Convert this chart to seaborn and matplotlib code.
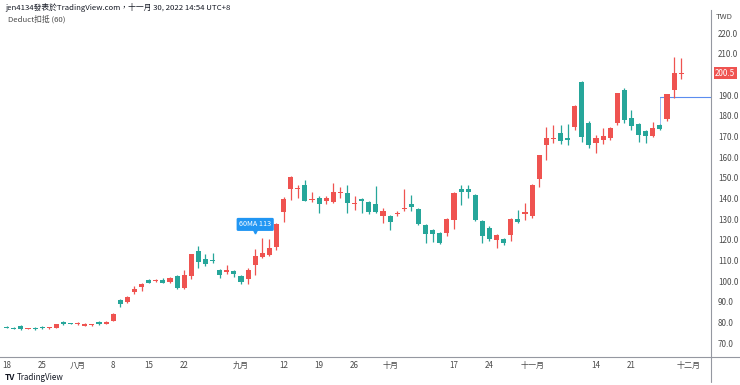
import matplotlib
matplotlib.use("Agg")
import matplotlib.pyplot as plt
from matplotlib.lines import Line2D
import seaborn as sns
import numpy as np
import pandas as pd

# ---- data ----
opens = [77.7, 77.4, 78.3, 76.8, 77.3, 77.9, 77.2, 77.4, 80.3, 79.6,
         79.3, 78.4, 78.6, 80.1, 79.4, 80.7, 91.0, 90.0, 94.9, 97.3,
         100.5, 99.9, 100.5, 99.4, 102.4, 96.4, 102.4, 114.4, 110.5, 109.9,
         105.2, 104.2, 104.9, 102.3, 101.0, 107.6, 111.8, 112.6, 116.3, 133.3,
         144.5, 144.6, 146.5, 139.0, 140.4, 138.9, 138.4, 142.6, 142.4, 137.4,
         139.7, 138.1, 137.4, 131.6, 131.5, 132.6, 135.0, 137.3, 134.7, 127.1,
         124.5, 123.4, 123.4, 129.5, 144.4, 144.4, 141.6, 129.0, 125.8, 119.9,
         120.3, 122.3, 129.9, 132.4, 131.5, 149.5, 165.8, 168.9, 171.5, 169.3,
         174.4, 196.4, 176.6, 166.9, 168.2, 169.0, 176.3, 192.4, 178.7, 175.8,
         172.7, 170.3, 175.3, 178.2, 192.4, 200.0]
highs = [78.1, 77.6, 78.6, 77.5, 77.6, 78.3, 77.7, 79.4, 80.6, 79.9,
         80.0, 79.5, 79.4, 80.5, 80.6, 84.3, 91.3, 92.8, 97.4, 99.0,
         101.0, 101.0, 101.5, 101.8, 102.8, 105.5, 113.3, 117.0, 113.3, 113.5,
         105.8, 107.6, 105.5, 102.8, 106.4, 115.7, 120.9, 120.3, 128.0, 140.5,
         150.8, 146.7, 148.9, 143.2, 140.9, 141.3, 147.4, 145.6, 146.4, 141.1,
         140.2, 138.6, 146.2, 135.2, 132.0, 134.0, 144.4, 141.5, 135.3, 127.5,
         125.0, 123.8, 130.3, 143.0, 146.5, 146.5, 142.0, 129.4, 126.5, 122.8,
         121.0, 130.3, 134.4, 137.9, 147.0, 161.2, 174.5, 175.5, 175.5, 176.0,
         185.0, 196.8, 177.4, 170.5, 173.9, 174.5, 191.2, 193.2, 182.7, 176.3,
         173.2, 177.1, 175.8, 190.5, 208.5, 207.8]
lows = [77.1, 76.6, 76.5, 76.6, 76.5, 76.9, 77.0, 77.2, 78.8, 79.2,
        78.8, 78.2, 78.4, 78.6, 79.2, 80.5, 87.4, 89.4, 93.8, 95.2,
        98.9, 99.3, 98.9, 99.1, 96.2, 96.0, 101.2, 106.5, 107.5, 108.6,
        101.5, 103.5, 102.0, 98.8, 98.4, 102.9, 111.0, 112.0, 115.0, 128.7,
        139.2, 140.0, 138.5, 138.3, 132.8, 137.4, 137.6, 140.1, 133.0, 134.4,
        132.8, 132.4, 133.0, 127.9, 124.7, 131.5, 133.9, 134.0, 127.0, 118.6,
        118.7, 118.0, 122.0, 125.0, 136.8, 140.0, 129.0, 118.6, 119.5, 116.1,
        117.2, 119.4, 128.0, 129.5, 130.5, 145.4, 158.5, 167.0, 166.5, 166.0,
        173.0, 167.5, 164.5, 162.0, 166.2, 168.0, 175.5, 176.5, 173.1, 167.4,
        166.8, 169.8, 173.0, 177.5, 188.4, 197.6]
closes = [77.5, 76.8, 76.8, 77.3, 76.9, 77.1, 77.4, 79.1, 79.1, 79.4,
          79.5, 79.2, 79.2, 79.2, 80.3, 84.0, 89.0, 92.4, 96.0, 98.4,
          99.2, 100.4, 99.2, 101.3, 96.5, 102.9, 112.9, 109.4, 108.4, 109.5,
          102.9, 105.3, 103.6, 99.4, 105.3, 112.3, 113.7, 115.8, 127.4, 139.7,
          150.5, 145.0, 138.9, 139.3, 137.1, 140.4, 142.9, 143.1, 137.6, 137.7,
          138.6, 133.6, 133.6, 133.9, 128.4, 133.0, 135.4, 136.0, 127.4, 122.8,
          122.8, 118.3, 129.9, 142.4, 142.9, 142.9, 129.5, 121.9, 120.3, 122.3,
          118.6, 129.9, 128.7, 133.5, 146.5, 160.8, 169.3, 169.3, 167.9, 168.2,
          184.8, 169.8, 165.8, 169.3, 170.2, 173.9, 190.8, 177.9, 175.0, 170.7,
          170.3, 174.2, 173.4, 190.3, 200.8, 200.5]

tick_pos = [0, 5, 10, 15, 20, 25, 33, 39, 44, 49, 54, 63, 68, 74, 83, 88, 96]
tick_labels = ["18", "25", "八月", "8", "15", "22", "九月", "12", "19", "26",
               "十月", "17", "24", "十一月", "14", "21", "十二月"]
y_ticks = [70, 80, 90, 100, 110, 120, 130, 140, 150, 160, 170, 180, 190, 210, 220]

ma_label_bar = 35
ma_label_text = "60MA 113"
deduct_line_bar = 92
deduct_line_price = 188.8
last_price = 200.5

# ---- styling ----
sns.set_theme(style="white")
plt.rcParams['font.family'] = ['Noto Sans CJK TC', 'DejaVu Sans']

UP = "#ef5350"
DOWN = "#26a69a"
AXC = "#9598a1"
TXT = "#4a4a4a"

df = pd.DataFrame({"open": opens, "high": highs, "low": lows, "close": closes})
df["idx"] = np.arange(len(df))
df["up"] = df["close"] >= df["open"]
df["color"] = np.where(df["up"], UP, DOWN)
df["bottom"] = df[["open", "close"]].min(axis=1)
df["height"] = (df["close"] - df["open"]).abs().clip(lower=0.45)

fig = plt.figure(figsize=(7.4, 3.85), dpi=100)
ax_l, ax_b = 0.0, 1 - 357 / 385
ax_r, ax_t = 711 / 740, 1 - 10 / 385
ax = fig.add_axes([ax_l, ax_b, ax_r - ax_l, ax_t - ax_b])

# wicks
ax.vlines(df["idx"], df["low"], df["high"], colors=df["color"], linewidth=0.9, zorder=2)
# bodies
ax.bar(df["idx"], df["height"], bottom=df["bottom"], width=0.72,
       color=df["color"], edgecolor="none", zorder=3)

ax.set_xlim(-6.7 / 7.1, (711 - 6.7) / 7.1)
ax.set_ylim(220 - (357 - 33) / 2.067, 220 + (33 - 10) / 2.067)

# axes styling
for s in ["top", "left"]:
    ax.spines[s].set_visible(False)
for s in ["right", "bottom"]:
    ax.spines[s].set_color(AXC)
    ax.spines[s].set_linewidth(0.8)
ax.yaxis.tick_right()
ax.set_yticks(y_ticks)
ax.set_yticklabels([f"{v:.1f}" for v in y_ticks])
ax.set_xticks(tick_pos)
ax.set_xticklabels(tick_labels)
ax.tick_params(axis="y", length=0, pad=5, labelsize=5.8, labelcolor=TXT)
ax.tick_params(axis="x", length=0, pad=3, labelsize=5.8, labelcolor=TXT)
ax.grid(False)

# deduct blue lines
xr = ax.get_xlim()[1]
ax.plot([deduct_line_bar, xr], [deduct_line_price, deduct_line_price],
        color="#5b8def", lw=0.8, zorder=1)
ax.plot([deduct_line_bar, deduct_line_bar], [deduct_line_price, highs[deduct_line_bar]],
        color="#5b8def", lw=0.6, alpha=0.7, zorder=1)

# 60MA label
ax.text(ma_label_bar, 127.4, ma_label_text, color="white", fontsize=5.2,
        ha="center", va="center", zorder=5,
        bbox=dict(boxstyle="round,pad=0.35,rounding_size=0.2", fc="#2196f3", ec="none"))
ax.plot([ma_label_bar], [124.0], marker="v", ms=3.5, color="#2196f3", zorder=5)

# last price label
ax.annotate(f"{last_price:.1f}", xy=(1.0, last_price), xycoords=("axes fraction", "data"),
            xytext=(3, 0), textcoords="offset points", ha="left", va="center",
            fontsize=5.8, color="white", annotation_clip=False,
            bbox=dict(boxstyle="square,pad=0.2", fc=UP, ec="none"))

# figure decorations
fig.add_artist(Line2D([ax_r, 1.0], [ax_b, ax_b], transform=fig.transFigure, color=AXC, lw=0.8))
fig.add_artist(Line2D([ax_r, ax_r], [1 - 382 / 385, ax_b], transform=fig.transFigure, color=AXC, lw=0.8))
fig.text(5 / 740, 1 - 7 / 385, "jen4134發表於TradingView.com，十一月 30, 2022 14:54 UTC+8",
         fontsize=5.6, color="#131722", ha="left", va="center")
fig.text(8 / 740, 1 - 19 / 385, "Deduct扣抵 (60)", fontsize=5.6, color=TXT, ha="left", va="center")
fig.text(716 / 740, 1 - 17 / 385, "TWD", fontsize=5.6, color=TXT, ha="left", va="center")
fig.text(5 / 740, 1 - 377 / 385, "TV", fontsize=6, color="#131722", fontweight="bold",
         ha="left", va="center")
fig.text(17 / 740, 1 - 377 / 385, "TradingView", fontsize=5.8, color="#131722",
         ha="left", va="center")

fig.savefig("out.png", dpi=100, facecolor="white")
